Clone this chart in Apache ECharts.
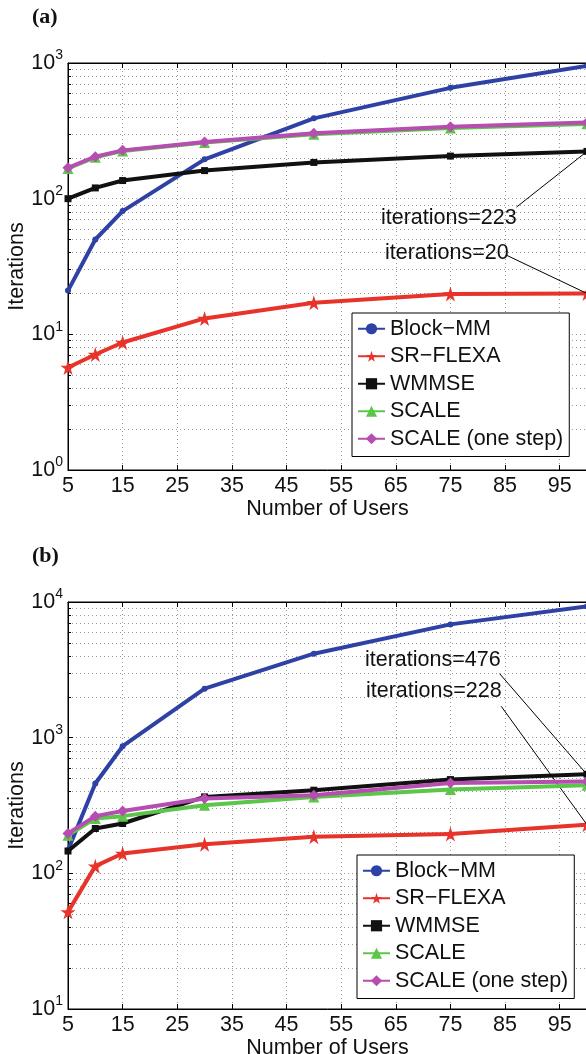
<!DOCTYPE html>
<html>
<head>
<meta charset="utf-8">
<script src="https://cdn.jsdelivr.net/npm/echarts@6/dist/echarts.min.js"></script>
<style>
html,body{margin:0;padding:0;background:#fff;}
#c{width:586px;height:1054px;}
</style>
</head>
<body>
<div id="c"></div>
<script>
// ---------- data ----------
const users = [5, 10, 15, 30, 50, 75, 100];
const names = ['Block\u2212MM', 'SR\u2212FLEXA', 'WMMSE', 'SCALE', 'SCALE (one step)'];

// panel (a)
const a_blockMM = [21, 50, 81, 195, 391, 656, 953];
const a_srflexa = [5.7, 7.1, 8.7, 13.1, 17.1, 19.8, 20];
const a_wmmse   = [100, 120, 136, 161, 185, 206, 223];
const a_scale   = [167, 202, 225, 259, 298, 332, 356];
const a_scale1  = [169, 204, 227, 262, 303, 339, 365];

// panel (b)
const b_blockMM = [148, 459, 865, 2297, 4159, 6839, 9290];
const b_srflexa = [52, 113, 140, 164, 186, 195, 228];
const b_wmmse   = [146, 214, 233, 366, 410, 491, 538];
const b_scale   = [191, 254, 264, 318, 366, 415, 446];
const b_scale1  = [197, 264, 288, 356, 376, 464, 476];

const xTicks = [5, 15, 25, 35, 45, 55, 65, 75, 85, 95];

// annotations: [text, arrow start (x, y in data units), arrow end (x, y)]
const annA = [
  ['iterations=223', [87.1, 86.7], [100, 223]],
  ['iterations=20', [85.2, 38.4], [100, 20]]
];
const annB = [
  ['iterations=476', [84.0, 2965], [100, 535]],
  ['iterations=228', [84.3, 1702], [100, 228]]
];

// ---------- styles ----------
const colors = ['#2e41a4', '#e8332b', '#111111', '#5cc64b', '#b64db0'];
const starPath = 'path://M50,0 L61,35 L98,35 L68,57 L79,91 L50,70 L21,91 L32,57 L2,35 L39,35 Z';
const symbols = ['circle', starPath, 'rect', 'triangle', 'diamond'];
const symSizes = [6, 15, 7, 11, 11];
const FONT = '"Liberation Sans", Arial, Helvetica, sans-serif';
const FS = 21.5;

const chart = echarts.init(document.getElementById('c'), null, {renderer: 'canvas'});

const gridTops = [63, 602];
const grids = gridTops.map(t => ({
  left: 68, top: t, width: 519, height: 407,
  outerBoundsMode: 'none', containLabel: false,
  show: true, borderColor: '#000', borderWidth: 1, backgroundColor: '#fff'
}));

function xAxisFor(gi, showLabels) {
  return {
    type: 'value', gridIndex: gi, min: 5, max: 100, interval: 10,
    position: showLabels ? 'bottom' : 'top',
    axisLine: {show: true, lineStyle: {color: '#000', width: 1}},
    axisTick: {show: true, inside: true, length: 5, lineStyle: {color: '#000'}},
    axisLabel: {
      show: showLabels, showMaxLabel: false, margin: 5,
      fontFamily: FONT, fontSize: FS, color: '#111',
      formatter: v => (xTicks.indexOf(v) >= 0 ? String(v) : '')
    },
    splitLine: {show: showLabels, lineStyle: {color: '#9a9a9a', type: [1, 3], width: 1}},
    name: showLabels ? 'Number of Users' : '',
    nameLocation: 'middle', nameGap: 28, nameMoveOverlap: false,
    nameTextStyle: {fontFamily: FONT, fontSize: FS, color: '#111'}
  };
}

function yAxisFor(gi, minV, maxV) {
  return {
    type: 'log', logBase: 10, gridIndex: gi, min: minV, max: maxV,
    axisLine: {show: true, lineStyle: {color: '#000', width: 1}},
    axisTick: {show: true, inside: true, length: 5, lineStyle: {color: '#000'}},
    minorTick: {show: true, splitNumber: 9, length: 3, lineStyle: {color: '#000'}},
    axisLabel: {
      margin: 5,
      formatter: v => '{b|10}{s|' + Math.round(Math.log10(v)) + '}',
      rich: {
        b: {fontFamily: FONT, fontSize: FS, color: '#111'},
        s: {fontFamily: FONT, fontSize: 14, color: '#111', padding: [0, 0, 15, 0]}
      }
    },
    splitLine: {show: true, lineStyle: {color: '#9a9a9a', type: [1, 3], width: 1}},
    minorSplitLine: {show: true, lineStyle: {color: '#9a9a9a', type: [1, 3], width: 1}},
    name: 'Iterations', nameLocation: 'middle', nameGap: 40, nameRotate: 90,
    nameMoveOverlap: false,
    nameTextStyle: {fontFamily: FONT, fontSize: FS, color: '#111'}
  };
}

const setsA = [a_blockMM, a_srflexa, a_wmmse, a_scale, a_scale1];
const setsB = [b_blockMM, b_srflexa, b_wmmse, b_scale, b_scale1];

function arrowMarkLine(anns) {
  return {
    silent: true, animation: false,
    symbol: ['none', 'arrow'], symbolSize: [0, 9],
    lineStyle: {color: '#000', width: 1, type: 'solid'},
    label: {show: false},
    data: anns.map(a => [{coord: a[1]}, {coord: a[2]}])
  };
}

const series = [];
[setsA, setsB].forEach((sets, gi) => {
  sets.forEach((vals, i) => {
    const s = {
      type: 'line', name: names[i], xAxisIndex: gi * 2, yAxisIndex: gi,
      data: users.map((u, k) => [u, vals[k]]),
      symbol: symbols[i], symbolSize: symSizes[i], showSymbol: true,
      color: colors[i],
      lineStyle: {color: colors[i], width: 4},
      itemStyle: {color: colors[i]},
      animation: false, clip: false, z: 2 + i
    };
    if (i === 0) s.markLine = arrowMarkLine(gi === 0 ? annA : annB);
    series.push(s);
  });
});

const legends = [
  {top: 313, left: 352},
  {top: 855, left: 357}
].map((p, gi) => ({
  orient: 'vertical', top: p.top, left: p.left,
  data: names, selectedMode: false,
  backgroundColor: '#fff', borderColor: '#000', borderWidth: 1,
  padding: [4, 6, 6, 5], itemGap: 4, itemWidth: 27, itemHeight: 14,
  textStyle: {fontFamily: FONT, fontSize: FS, color: '#111', lineHeight: 23.5}
}));

function annTexts(anns, positions) {
  return anns.map((a, i) => ({
    type: 'text', left: positions[i][0], top: positions[i][1],
    style: {text: a[0], font: FS + 'px ' + FONT, fill: '#111'}, z: 100
  }));
}

const option = {
  backgroundColor: '#fff',
  animation: false,
  grid: grids,
  xAxis: [xAxisFor(0, true), xAxisFor(0, false), xAxisFor(1, true), xAxisFor(1, false)],
  yAxis: [yAxisFor(0, 1, 1000), yAxisFor(1, 10, 10000)],
  legend: legends,
  series: series,
  graphic: [
    {type: 'text', left: 32, top: 6, style: {text: '(a)', font: 'bold 22px "Liberation Serif", "Times New Roman", serif', fill: '#111'}},
    {type: 'text', left: 32, top: 545, style: {text: '(b)', font: 'bold 22px "Liberation Serif", "Times New Roman", serif', fill: '#111'}}
  ].concat(annTexts(annA, [[381, 207], [385, 242]]))
   .concat(annTexts(annB, [[365, 649], [366, 680]]))
};
option.xAxis[1].gridIndex = 0;
option.xAxis[3].gridIndex = 1;
chart.setOption(option);
</script>
</body>
</html>
